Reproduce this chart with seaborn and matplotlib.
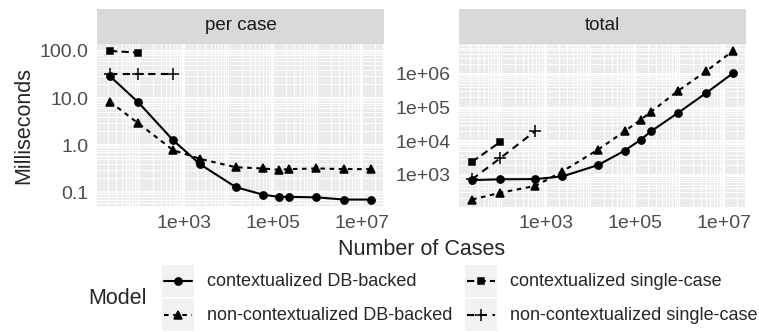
import numpy as np
import pandas as pd
import matplotlib
matplotlib.use("Agg")
import matplotlib.pyplot as plt
from matplotlib.lines import Line2D
from matplotlib.patches import Rectangle
from matplotlib.ticker import FixedLocator, LogLocator, NullFormatter
import seaborn as sns

# series
models = ["contextualized DB-backed", "non-contextualized DB-backed",
          "contextualized single-case", "non-contextualized single-case"]

cases_db = [22, 95, 580, 2350, 14800, 60000, 134000, 235000, 955000, 4000000, 16000000]
cases_ctx_single = [22, 95]
cases_nonctx_single = [22, 95, 580]

per_case_ctx_db = [29, 8.1, 1.26, 0.39, 0.128, 0.089, 0.08, 0.08, 0.078, 0.07, 0.07]
per_case_nonctx_db = [8.3, 2.9, 0.78, 0.51, 0.34, 0.32, 0.30, 0.31, 0.32, 0.31, 0.31]
per_case_ctx_single = [100, 92]
per_case_nonctx_single = [32, 32, 32]

total_ctx_db = [700, 740, 750, 900, 1950, 5300, 11000, 20000, 71000, 270000, 1050000]
total_nonctx_db = [185, 295, 470, 1260, 5600, 20000, 43000, 76000, 320000, 1200000, 4800000]
total_ctx_single = [2450, 9500]
total_nonctx_single = [740, 3150, 20000]

facets = ["per case", "total"]
x_ticks = [1e3, 1e5, 1e7]
x_tick_labels = ["1e+03", "1e+05", "1e+07"]
y_ticks = {"per case": [0.1, 1, 10, 100], "total": [1e3, 1e4, 1e5, 1e6]}
y_tick_labels = {"per case": ["0.1", "1.0", "10.0", "100.0"],
                 "total": ["1e+03", "1e+04", "1e+05", "1e+06"]}


def frame(facet, values):
    rows = []
    for model, xs, ys in zip(models, [cases_db, cases_db, cases_ctx_single, cases_nonctx_single], values):
        for x, y in zip(xs, ys):
            rows.append({"Cases": x, "Milliseconds": y, "Model": model, "facet": facet})
    return pd.DataFrame(rows)


df = pd.concat([
    frame("per case", [per_case_ctx_db, per_case_nonctx_db, per_case_ctx_single, per_case_nonctx_single]),
    frame("total", [total_ctx_db, total_nonctx_db, total_ctx_single, total_nonctx_single]),
])

markers = dict(zip(models, ["o", "^", "s", "+"]))
dashes = dict(zip(models, ["", (2.2, 2.2), (3.5, 2.0), (3.5, 2.6)]))
msizes = dict(zip(models, [5.2, 6.0, 5.0, 9.0]))

sns.set_style("white")
plt.rcParams["font.family"] = ["Liberation Sans", "DejaVu Sans"]

W, H = 759, 332
fig = plt.figure(figsize=(W / 100, H / 100), dpi=100)


def fx(x):
    return x / W


def fy(y):
    return 1 - y / H


def expand_log(vals):
    lo, hi = np.log10(min(vals)), np.log10(max(vals))
    pad = (hi - lo) * 0.05
    return 10 ** (lo - pad), 10 ** (hi + pad)


panel_left = [97, 459]
panel_w, panel_top, panel_bot = 287, 43.5, 207
strip_h = 35

for i, facet in enumerate(facets):
    ax = fig.add_axes([fx(panel_left[i]), fy(panel_bot), panel_w / W, (panel_bot - panel_top) / H])
    sub = df[df["facet"] == facet]
    for model in models:
        d = sub[sub["Model"] == model]
        kw = {}
        if dashes[model]:
            kw["dashes"] = dashes[model]
        sns.lineplot(data=d, x="Cases", y="Milliseconds", color="black",
                     marker=markers[model], markersize=msizes[model],
                     markeredgecolor="black", markeredgewidth=1.1,
                     linewidth=1.5, ax=ax, zorder=3, **kw)
    ax.set_xscale("log")
    ax.set_yscale("log")
    ax.set_xlim(*expand_log(df["Cases"]))
    ax.set_ylim(*expand_log(sub["Milliseconds"]))
    ax.set_facecolor("#EBEBEB")
    for s in ax.spines.values():
        s.set_visible(False)
    ax.xaxis.set_major_locator(FixedLocator(x_ticks))
    ax.set_xticklabels(x_tick_labels)
    ax.yaxis.set_major_locator(FixedLocator(y_ticks[facet]))
    ax.set_yticklabels(y_tick_labels[facet])
    for axis in (ax.xaxis, ax.yaxis):
        axis.set_minor_locator(LogLocator(base=10, subs=np.arange(1, 10), numticks=40))
        axis.set_minor_formatter(NullFormatter())
    ax.grid(which="major", color="white", linewidth=1.3)
    ax.grid(which="minor", color="white", linewidth=0.7)
    ax.set_axisbelow(True)
    ax.tick_params(which="major", length=3.5, width=0.9, color="#333333",
                   labelsize=14, labelcolor="#4D4D4D", pad=2.5)
    ax.tick_params(which="minor", length=0)
    ax.set_xlabel("")
    ax.set_ylabel("")
    h = strip_h / (panel_bot - panel_top)
    ax.add_patch(Rectangle((0, 1), 1, h, transform=ax.transAxes, clip_on=False,
                           facecolor="#D9D9D9", edgecolor="none"))
    ax.text(0.5, 1 + h / 2, facet, transform=ax.transAxes, ha="center", va="center",
            fontsize=13.5, color="#1A1A1A")

fig.text(fx(24), fy(125), "Milliseconds", rotation=90, ha="center", va="center", fontsize=15.5)
fig.text(fx(421.5), fy(255), "Number of Cases", ha="center", va="baseline", fontsize=15.5)

# legend
fig.text(fx(88), fy(298), "Model", ha="left", va="center", fontsize=15.5)
key_cols = [(162, 207), (464.5, 510)]
key_rows = [265, 299]
key = 32
for j, model in enumerate(models):
    kx, tx = key_cols[j // 2]
    ky = key_rows[j % 2]
    fig.add_artist(Rectangle((fx(kx), fy(ky + key)), key / W, key / H,
                             transform=fig.transFigure, facecolor="#F2F2F2", edgecolor="none"))
    cy = fy(ky + key / 2)
    ln = Line2D([fx(kx + 2), fx(kx + key - 2)], [cy, cy], transform=fig.transFigure,
                color="black", linewidth=1.5)
    if dashes[model]:
        ln.set_dashes(dashes[model])
    fig.add_artist(ln)
    fig.add_artist(Line2D([fx(kx + key / 2)], [cy], transform=fig.transFigure,
                          marker=markers[model], color="black", markersize=msizes[model],
                          markeredgewidth=1.1, linestyle="none"))
    fig.text(fx(tx), cy, model, ha="left", va="center", fontsize=13)

fig.savefig("out.png", dpi=100)
